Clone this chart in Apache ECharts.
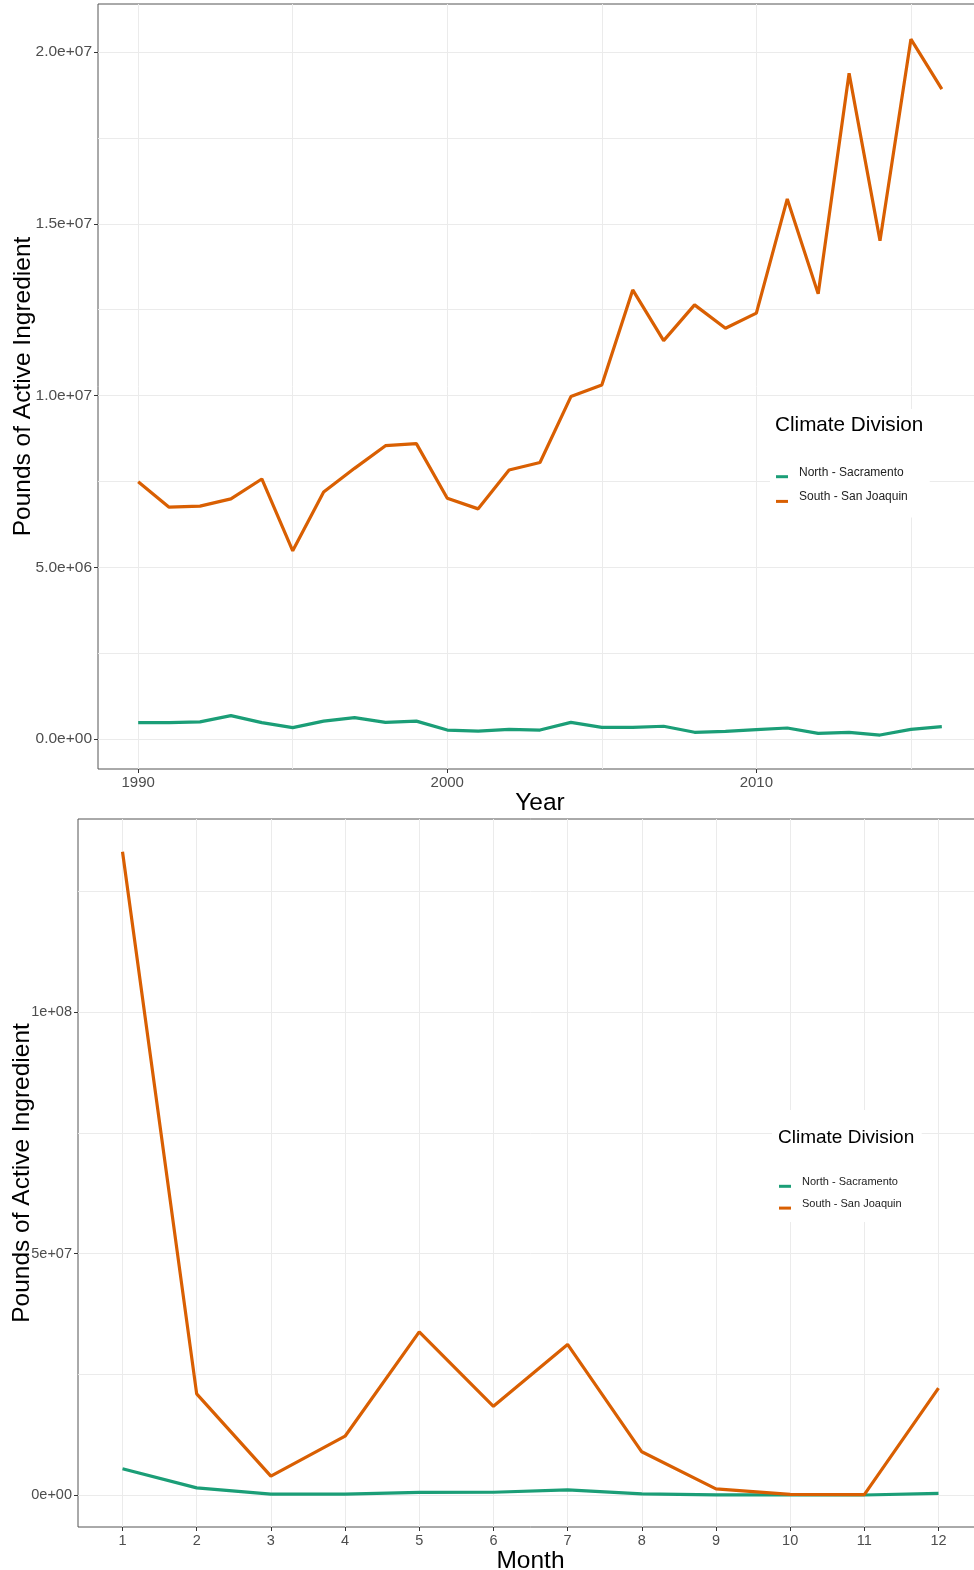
<!DOCTYPE html>
<html>
<head>
<meta charset="utf-8">
<script src="https://cdn.jsdelivr.net/npm/echarts@6/dist/echarts.min.js"></script>
<style>
  html, body { margin: 0; padding: 0; overflow: hidden; background: #fff; }
  #chart { width: 983px; height: 1570px; }
</style>
</head>
<body>
<div id="chart"></div>
<script>
  // yearly totals, 1990-2016
  var years = [1990, 1991, 1992, 1993, 1994, 1995, 1996, 1997, 1998, 1999, 2000, 2001, 2002,
    2003, 2004, 2005, 2006, 2007, 2008, 2009, 2010, 2011, 2012, 2013, 2014, 2015, 2016];
  var northYear = [475000, 475000, 500000, 680000, 475000, 330000, 520000, 620000, 485000, 520000,
    260000, 230000, 280000, 260000, 485000, 340000, 340000, 370000, 195000, 220000,
    270000, 320000, 165000, 195000, 115000, 280000, 360000];
  var southYear = [7490000, 6750000, 6780000, 6990000, 7570000, 5480000, 7190000, 7880000, 8540000, 8600000,
    7010000, 6700000, 7830000, 8050000, 9970000, 10310000, 13075000, 11600000, 12640000, 11960000,
    12400000, 15725000, 12960000, 19385000, 14510000, 20375000, 18920000];

  // monthly totals
  var months = [1, 2, 3, 4, 5, 6, 7, 8, 9, 10, 11, 12];
  var northMonth = [5450000, 1500000, 200000, 200000, 560000, 600000, 1100000, 270000, 50000, 50000, 30000, 350000];
  var southMonth = [133200000, 20970000, 3930000, 12200000, 33800000, 18400000, 31200000, 8970000, 1300000, 150000, 100000, 22150000];

  // labelled ticks and grid lines (major + minor)
  var yearTicks = [1990, 2000, 2010];
  var yearGrid = [1990, 1995, 2000, 2005, 2010, 2015];
  var yearValTicks = [0, 5000000, 10000000, 15000000, 20000000];
  var yearValGrid = [0, 2500000, 5000000, 7500000, 10000000, 12500000, 15000000, 17500000, 20000000];
  var monthValTicks = [0, 50000000, 100000000];
  var monthValGrid = [0, 25000000, 50000000, 75000000, 100000000, 125000000];

  var names = ['North - Sacramento', 'South - San Joaquin'];
  var colors = ['#1b9e77', '#d95f02'];

  var font = '"Liberation Sans", Arial, sans-serif';

  function sci(v, d) {
    var s = Number(v).toExponential(d);
    var parts = s.split('e');
    var sign = parts[1].charAt(0);
    var ex = parts[1].slice(1);
    if (ex.length < 2) ex = '0' + ex;
    return parts[0] + 'e' + sign + ex;
  }

  function pairs(xs, ys) {
    return xs.map(function (x, i) { return [x, ys[i]]; });
  }

  var gridLine = { show: true, lineStyle: { color: '#ebebeb', width: 1 } };
  var nameStyle = { color: '#000', fontSize: 24.5, fontFamily: font };
  var noLine = { show: false, onZero: false };
  // key drawn low in its box so the label sits a little above it, as in the original
  var keyIcon = 'path://M0,0 M0,9 L12,9 L12,12 L0,12 Z';

  function tickStyle(size) {
    return { color: '#4d4d4d', fontSize: size, fontFamily: font };
  }

  // axis that only draws the grid lines
  function gridAxis(idx, pos, min, max, vals) {
    return { gridIndex: idx, type: 'value', position: pos, min: min, max: max,
      splitLine: gridLine, axisLine: noLine,
      axisTick: { show: false, customValues: vals }, axisLabel: { show: false } };
  }

  // axis that draws ticks, labels and the title
  function labelAxis(idx, pos, min, max, vals, fmt, size, name, gap, moveOverlap) {
    return { gridIndex: idx, type: 'value', position: pos, min: min, max: max,
      name: name, nameLocation: 'middle', nameGap: gap, nameTextStyle: nameStyle,
      nameMoveOverlap: moveOverlap,
      splitLine: { show: false }, axisLine: noLine,
      axisTick: { show: true, customValues: vals, length: 4, lineStyle: { color: '#333' } },
      axisLabel: Object.assign({ customValues: vals, margin: 6, formatter: fmt }, tickStyle(size)) };
  }

  function legendFor(top, left, pad, fontSize, lh, gap) {
    return {
      orient: 'vertical',
      left: left,
      top: top,
      data: names,
      icon: keyIcon,
      itemWidth: 12,
      itemHeight: 12,
      itemGap: gap,
      selectedMode: false,
      backgroundColor: '#fff',
      padding: pad,
      textStyle: { color: '#222', fontSize: fontSize, lineHeight: lh, fontFamily: font, padding: [0, 0, 0, 6] }
    };
  }

  var fmtNum = function (v) { return String(v); };

  var chart = echarts.init(document.getElementById('chart'));
  var option = {
    animation: false,
    backgroundColor: '#fff',
    title: [
      { text: 'Climate Division', left: 775, top: 415, padding: 0,
        textStyle: { fontSize: 20.7, fontWeight: 'normal', color: '#000', fontFamily: font } },
      { text: 'Climate Division', left: 778, top: 1128, padding: 0,
        textStyle: { fontSize: 19, fontWeight: 'normal', color: '#000', fontFamily: font } }
    ],
    legend: [
      legendFor(409, 770, [56.2, 22, 13.5, 6], 12, 14, 10.7),
      legendFor(1110, 772, [65.3, 20, 12, 7], 11, 13, 8.8)
    ],
    grid: [
      { left: 98, top: 4, right: 1, height: 765, show: true, borderColor: '#555', borderWidth: 1,
        containLabel: false, outerBoundsMode: 'none', z: 0 },
      { left: 78, top: 819, right: 0, height: 708, show: true, borderColor: '#555', borderWidth: 1,
        containLabel: false, outerBoundsMode: 'none', z: 0 }
    ],
    xAxis: [
      gridAxis(0, 'bottom', 1988.7, 2017.3, yearGrid),
      labelAxis(0, 'bottom', 1988.7, 2017.3, yearTicks, fmtNum, 15, 'Year', 18, true),
      gridAxis(1, 'bottom', 0.4, 12.6, months),
      labelAxis(1, 'bottom', 0.4, 12.6, months, fmtNum, 14.5, 'Month', 16, true)
    ],
    yAxis: [
      gridAxis(0, 'left', -874000, 21400000, yearValGrid),
      labelAxis(0, 'left', -874000, 21400000, yearValTicks, function (v) { return sci(v, 1); }, 15.5,
        'Pounds of Active Ingredient', 62, false),
      gridAxis(1, 'left', -6600000, 140000000, monthValGrid),
      labelAxis(1, 'left', -6600000, 140000000, monthValTicks, function (v) { return sci(v, 0); }, 14.5,
        'Pounds of Active Ingredient', 43, false)
    ],
    series: [
      { name: names[0], type: 'line', xAxisIndex: 1, yAxisIndex: 1, data: pairs(years, northYear),
        symbol: 'none', lineStyle: { width: 3.2, color: colors[0] }, itemStyle: { color: colors[0] } },
      { name: names[1], type: 'line', xAxisIndex: 1, yAxisIndex: 1, data: pairs(years, southYear),
        symbol: 'none', lineStyle: { width: 3.2, color: colors[1] }, itemStyle: { color: colors[1] } },
      { name: names[0], type: 'line', xAxisIndex: 3, yAxisIndex: 3, data: pairs(months, northMonth),
        symbol: 'none', lineStyle: { width: 3.2, color: colors[0] }, itemStyle: { color: colors[0] } },
      { name: names[1], type: 'line', xAxisIndex: 3, yAxisIndex: 3, data: pairs(months, southMonth),
        symbol: 'none', lineStyle: { width: 3.2, color: colors[1] }, itemStyle: { color: colors[1] } }
    ]
  };
  option && chart.setOption(option);
</script>
</body>
</html>
